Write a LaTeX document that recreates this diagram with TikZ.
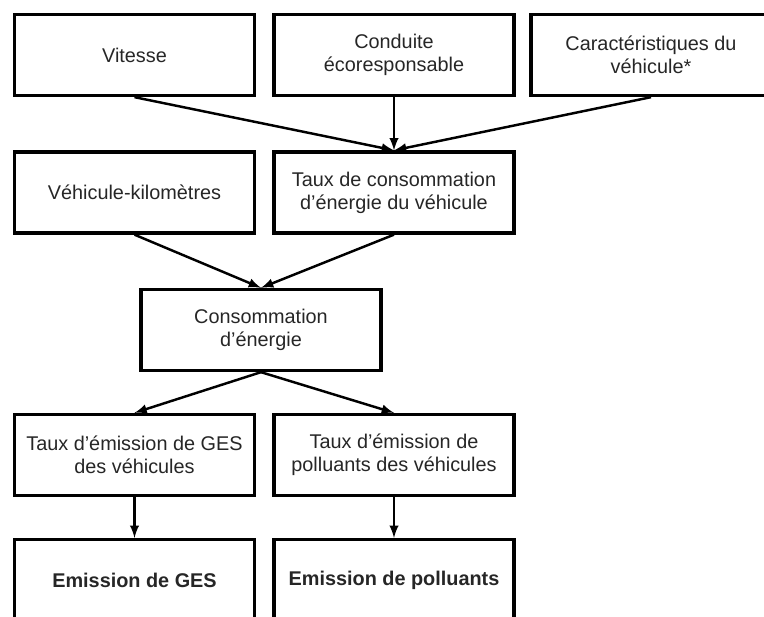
\documentclass[tikz,border=0pt]{standalone}
\usepackage{fontspec}
\setmainfont{Liberation Sans}
\usetikzlibrary{arrows}

\begin{document}
\begin{tikzpicture}[x=0.02cm, y=-0.02cm,
  box/.style={draw, line width=1.9pt, minimum width=4.8cm, minimum height=1.62cm,
    inner sep=0pt, align=center, text=black!85, font=\fontsize{11.3}{13.2}\selectfont},
  arr/.style={-latex, line width=1.4pt}]
\useasboundingbox (0,0) rectangle (764,616);
\clip (0,0) rectangle (764,616);
% first row
\node[box] (vitesse) at (134.5,55) {Vitesse};
\node[box] (conduite) at (394,55) {Conduite\\écoresponsable};
\node[box] (caract) at (651,55) {Caractéristiques du\\véhicule*};
% second row
\node[box] (vehkm) at (134.5,192.5) {Véhicule-kilomètres};
\node[box] (tauxconso) at (394,192.5) {Taux de consommation\\d’énergie du véhicule};
% middle
\node[box] (conso) at (261,330) {Consommation\\d’énergie};
% emission rates
\node[box] (tauxges) at (134.5,455) {Taux d’émission de GES\\des véhicules};
\node[box] (tauxpol) at (394,455) {Taux d’émission de\\polluants des véhicules};
% results
\node[box, font=\fontsize{11.3}{13.2}\selectfont\bfseries] (ges) at (134.5,580) {Emission de GES};
\node[box, font=\fontsize{11.3}{13.2}\selectfont\bfseries] (pol) at (394,580) {Emission de polluants};
% arrows
\draw[arr] (vitesse.south) -- (tauxconso.north);
\draw[arr] (conduite.south) -- (tauxconso.north);
\draw[arr] (caract.south) -- (tauxconso.north);
\draw[arr] (vehkm.south) -- (conso.north);
\draw[arr] (tauxconso.south) -- (conso.north);
\draw[arr] (conso.south) -- (tauxges.north);
\draw[arr] (conso.south) -- (tauxpol.north);
\draw[arr] (tauxges.south) -- (ges.north);
\draw[arr] (tauxpol.south) -- (pol.north);
\end{tikzpicture}
\end{document}
